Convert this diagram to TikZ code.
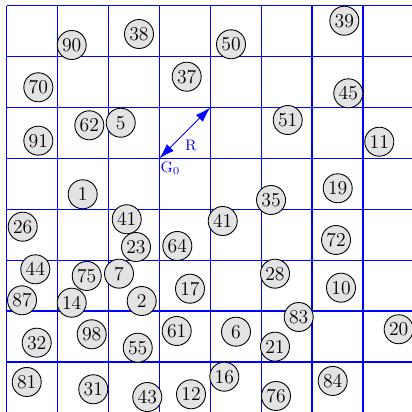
\documentclass[tikz,border=0pt]{standalone}
\usetikzlibrary{arrows.meta}
\tikzset{
  ball/.style={circle,draw=black,fill=gray!22,line width=0.5pt,minimum size=0.57cm,inner sep=0pt,font=\fontsize{11}{13}\selectfont},
  gridline/.style={blue,line width=0.75pt},
  lbl/.style={blue,font=\fontsize{8.5}{10}\selectfont,inner sep=1pt}
}
\begin{document}
\begin{tikzpicture}
\useasboundingbox (-0.132,0.112) rectangle (7.963,-7.982);
\clip (-0.132,0.112) rectangle (7.963,-7.982);
\draw[gridline] (0,-8.5) grid (8.5,0);
\coordinate (G0) at (3,-3);
\coordinate (G1) at (4,-2);
\draw[blue,line width=0.5pt,{Latex[length=3mm,width=1.9mm]}-{Latex[length=3mm,width=1.9mm]}] (G0) -- (G1);
\node[lbl,anchor=north west] (g0lbl) at (2.98,-3.02) {G$_0$};
\node[lbl] (rlbl) at (3.62,-2.74) {R};
\foreach \n/\x/\y in {
 90/1.277/-0.772, 38/2.599/-0.556, 70/0.621/-1.603, 37/3.536/-1.395,
 62/1.623/-2.350, 5/2.240/-2.299, 91/0.621/-2.652, 1/1.493/-3.705,
 39/6.633/-0.295, 50/4.407/-0.758, 45/6.711/-1.721, 51/5.521/-2.246,
 11/7.320/-2.672, 19/6.503/-3.587, 35/5.193/-3.817, 26/0.314/-4.342,
 41/2.358/-4.196, 23/2.540/-4.741, 64/3.352/-4.721, 44/0.562/-5.179,
 75/1.572/-5.310, 7/2.206/-5.265, 87/0.301/-5.788, 14/1.277/-5.835,
 2/2.652/-5.802, 17/3.601/-5.560, 98/1.670/-6.456, 32/0.589/-6.621,
 61/3.340/-6.391, 55/2.574/-6.719, 81/0.393/-7.393, 31/1.701/-7.536,
 43/2.762/-7.688, 12/3.621/-7.635, 72/6.470/-4.603,
 28/5.271/-5.265, 10/6.568/-5.540, 83/5.737/-6.116, 6/4.505/-6.405,
 20/7.701/-6.357, 21/5.271/-6.699, 16/4.275/-7.289, 84/6.405/-7.373,
 76/5.291/-7.668}
 {\node[ball] (b\n) at (\x,\y) {\n};}
\node[ball] (b41b) at (4.244,-4.230) {41};
\end{tikzpicture}
\end{document}
